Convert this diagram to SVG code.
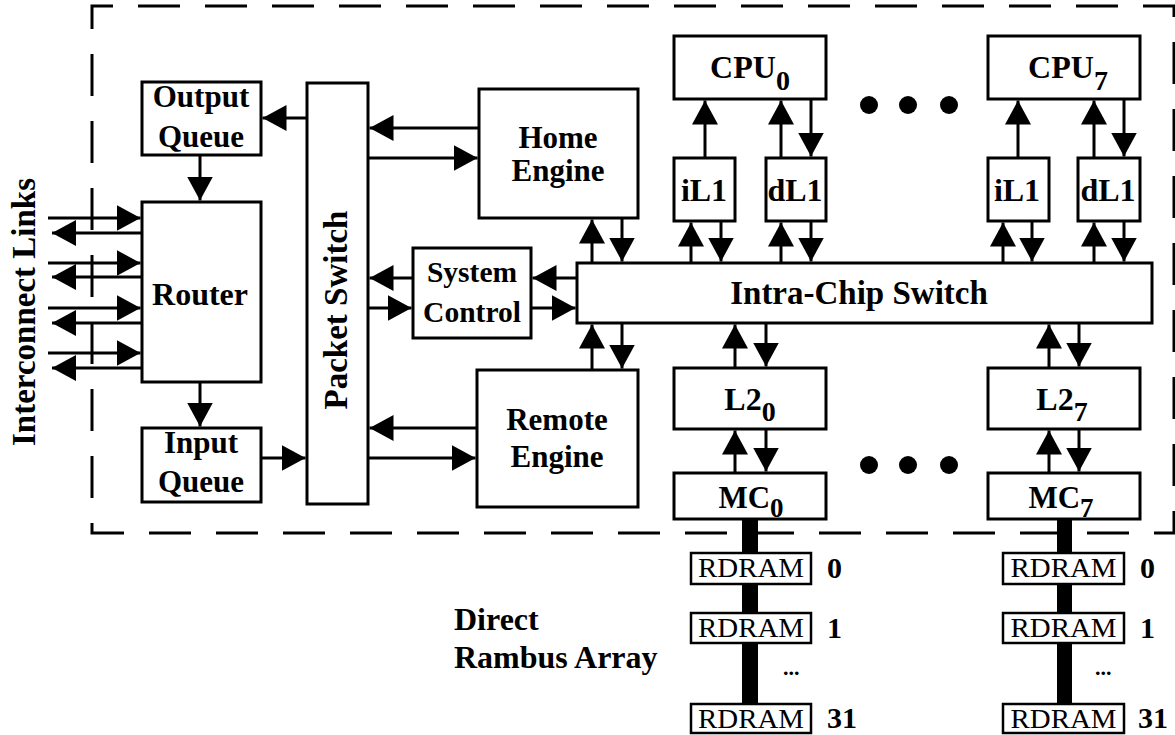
<svg xmlns="http://www.w3.org/2000/svg" width="1175" height="735" viewBox="0 0 1175 735">
<defs>
<marker id="ah" markerUnits="userSpaceOnUse" markerWidth="24" markerHeight="26" refX="24" refY="13" orient="auto" viewBox="0 0 24 26">
<path d="M0,0 L24,13 L0,26 Z" fill="#000"/>
</marker>
</defs>
<style>
.box{fill:#fff;stroke:#000;stroke-width:3}
.rd{fill:#fff;stroke:#000;stroke-width:2.5}
.c line{stroke:#000;stroke-width:3;marker-end:url(#ah)}
text{font-family:"Liberation Serif","Times New Roman",serif;font-weight:bold;fill:#000}
.m{text-anchor:middle}
.rt{font-weight:normal;font-size:27px}
.dot{fill:#000}
</style>
<rect width="1175" height="735" fill="#fff"/>
<path d="M92,27 V6 H1174 V533 H92 Z" fill="none" stroke="#000" stroke-width="3" stroke-dasharray="42 25"/>

<g id="bus">
<rect x="742" y="519" width="16" height="185" fill="#000"/>
<rect x="1057" y="519" width="15" height="185" fill="#000"/>
</g>

<g id="output-queue"><rect class="box" x="142" y="82" width="119" height="73"/><text class="m" x="201" y="107" font-size="31">Output</text><text class="m" x="201" y="147" font-size="31">Queue</text></g>
<g id="router"><rect class="box" x="142" y="202" width="119" height="180"/><text class="m" x="200" y="305" font-size="32">Router</text></g>
<g id="input-queue"><rect class="box" x="142" y="428" width="119" height="74"/><text class="m" x="201" y="453" font-size="31">Input</text><text class="m" x="201" y="492" font-size="31">Queue</text></g>
<g id="packet-switch"><rect class="box" x="307" y="83" width="61" height="421"/><text class="m" font-size="33" transform="translate(347,310) rotate(-90)">Packet Switch</text></g>
<g id="interconnect-label"><text class="m" font-size="33" transform="translate(35,312) rotate(-90)">Interconnect Links</text></g>
<g id="home-engine"><rect class="box" x="479" y="89" width="159" height="129"/><text class="m" x="558" y="148" font-size="31">Home</text><text class="m" x="558" y="181" font-size="31">Engine</text></g>
<g id="system-control"><rect class="box" x="413" y="248" width="118" height="90"/><text class="m" x="472" y="282" font-size="29.5">System</text><text class="m" x="472" y="322" font-size="29.5">Control</text></g>
<g id="remote-engine"><rect class="box" x="477" y="370" width="161" height="137"/><text class="m" x="557" y="430" font-size="31">Remote</text><text class="m" x="557" y="467" font-size="31">Engine</text></g>
<g id="intra-chip-switch"><rect class="box" x="577" y="263" width="575" height="60"/><text class="m" x="859" y="304" font-size="33">Intra-Chip Switch</text></g>
<g id="cpu0"><rect class="box" x="674" y="36" width="152" height="63"/><text class="m" x="750" y="78" font-size="32">CPU<tspan font-size="28" dy="12">0</tspan></text></g>
<g id="cpu7"><rect class="box" x="988" y="36" width="152" height="63"/><text class="m" x="1068" y="78" font-size="32">CPU<tspan font-size="28" dy="12">7</tspan></text></g>
<g id="il1-0"><rect class="box" x="674" y="158" width="61" height="63"/><text class="m" x="704" y="201" font-size="32">iL1</text></g>
<g id="dl1-0"><rect class="box" x="766" y="158" width="60" height="63"/><text class="m" x="795" y="201" font-size="32">dL1</text></g>
<g id="il1-7"><rect class="box" x="988" y="158" width="61" height="63"/><text class="m" x="1017" y="201" font-size="32">iL1</text></g>
<g id="dl1-7"><rect class="box" x="1078" y="158" width="62" height="63"/><text class="m" x="1108" y="201" font-size="32">dL1</text></g>
<g id="l2-0"><rect class="box" x="674" y="368" width="152" height="61"/><text class="m" x="750" y="410" font-size="32">L2<tspan font-size="28" dy="11">0</tspan></text></g>
<g id="l2-7"><rect class="box" x="988" y="368" width="152" height="61"/><text class="m" x="1062" y="410" font-size="32">L2<tspan font-size="28" dy="11">7</tspan></text></g>
<g id="mc0"><rect class="box" x="674" y="473" width="152" height="46"/><text class="m" x="751" y="508" font-size="31">MC<tspan font-size="27" dy="9">0</tspan></text></g>
<g id="mc7"><rect class="box" x="988" y="473" width="152" height="46"/><text class="m" x="1061" y="508" font-size="31">MC<tspan font-size="27" dy="9">7</tspan></text></g>

<g id="rdram-0-0"><rect class="rd" x="691" y="553" width="120" height="31"/><text class="m rt" x="751" y="577" textLength="106" lengthAdjust="spacingAndGlyphs">RDRAM</text><text x="827" y="578" font-size="30">0</text></g>
<g id="rdram-0-1"><rect class="rd" x="691" y="613" width="120" height="30"/><text class="m rt" x="751" y="637" textLength="106" lengthAdjust="spacingAndGlyphs">RDRAM</text><text x="827" y="638" font-size="30">1</text></g>
<g id="rdram-0-31"><rect class="rd" x="691" y="704" width="120" height="29"/><text class="m rt" x="751" y="728" textLength="106" lengthAdjust="spacingAndGlyphs">RDRAM</text><text x="827" y="728" font-size="30">31</text></g>
<text x="783" y="675" font-size="22">...</text>
<g id="rdram-7-0"><rect class="rd" x="1003" y="553" width="121" height="31"/><text class="m rt" x="1063.5" y="577" textLength="106" lengthAdjust="spacingAndGlyphs">RDRAM</text><text x="1140" y="578" font-size="30">0</text></g>
<g id="rdram-7-1"><rect class="rd" x="1003" y="613" width="121" height="30"/><text class="m rt" x="1063.5" y="637" textLength="106" lengthAdjust="spacingAndGlyphs">RDRAM</text><text x="1140" y="638" font-size="30">1</text></g>
<g id="rdram-7-31"><rect class="rd" x="1003" y="704" width="121" height="29"/><text class="m rt" x="1063.5" y="728" textLength="106" lengthAdjust="spacingAndGlyphs">RDRAM</text><text x="1138" y="728" font-size="30">31</text></g>
<text x="1095" y="675" font-size="22">...</text>

<g id="rambus-label"><text x="454" y="630" font-size="32">Direct</text><text x="454" y="668" font-size="32">Rambus Array</text></g>

<g id="ellipsis-dots">
<circle class="dot" cx="869" cy="105" r="9"/><circle class="dot" cx="908" cy="105" r="9"/><circle class="dot" cx="949" cy="105" r="9"/>
<circle class="dot" cx="869" cy="465" r="9"/><circle class="dot" cx="908" cy="465" r="9"/><circle class="dot" cx="949" cy="465" r="9"/>
</g>

<g id="connectors" class="c">
<line x1="705" y1="158" x2="705" y2="100.5"/>
<line x1="781" y1="158" x2="781" y2="100.5"/>
<line x1="811" y1="99" x2="811" y2="156.5"/>
<line x1="1018" y1="158" x2="1018" y2="100.5"/>
<line x1="1094" y1="158" x2="1094" y2="100.5"/>
<line x1="1124" y1="99" x2="1124" y2="156.5"/>
<line x1="691" y1="263" x2="691" y2="222.5"/>
<line x1="721" y1="221" x2="721" y2="261.5"/>
<line x1="781" y1="263" x2="781" y2="222.5"/>
<line x1="811" y1="221" x2="811" y2="261.5"/>
<line x1="1003" y1="263" x2="1003" y2="222.5"/>
<line x1="1032" y1="221" x2="1032" y2="261.5"/>
<line x1="1094" y1="263" x2="1094" y2="222.5"/>
<line x1="1124" y1="221" x2="1124" y2="261.5"/>
<line x1="592" y1="263" x2="592" y2="219.5"/>
<line x1="622" y1="218" x2="622" y2="261.5"/>
<line x1="592" y1="370" x2="592" y2="324.5"/>
<line x1="622" y1="323" x2="622" y2="368.5"/>
<line x1="735" y1="368" x2="735" y2="324.5"/>
<line x1="766" y1="323" x2="766" y2="366.5"/>
<line x1="735" y1="473" x2="735" y2="430.5"/>
<line x1="766" y1="429" x2="766" y2="471.5"/>
<line x1="1049" y1="368" x2="1049" y2="324.5"/>
<line x1="1079" y1="323" x2="1079" y2="366.5"/>
<line x1="1049" y1="473" x2="1049" y2="430.5"/>
<line x1="1079" y1="429" x2="1079" y2="471.5"/>
<line x1="200" y1="155" x2="200" y2="200.5"/>
<line x1="200" y1="382" x2="200" y2="426.5"/>
<line x1="307" y1="118" x2="262.5" y2="118"/>
<line x1="261" y1="458" x2="305.5" y2="458"/>
<line x1="479" y1="128" x2="369.5" y2="128"/>
<line x1="368" y1="158" x2="477.5" y2="158"/>
<line x1="413" y1="278" x2="369.5" y2="278"/>
<line x1="368" y1="308" x2="411.5" y2="308"/>
<line x1="577" y1="278" x2="532.5" y2="278"/>
<line x1="531" y1="308" x2="575.5" y2="308"/>
<line x1="477" y1="428" x2="369.5" y2="428"/>
<line x1="368" y1="458" x2="475.5" y2="458"/>
<line x1="48" y1="218" x2="140.5" y2="218"/>
<line x1="48" y1="263" x2="140.5" y2="263"/>
<line x1="48" y1="308" x2="140.5" y2="308"/>
<line x1="48" y1="353" x2="140.5" y2="353"/>
<line x1="142" y1="233" x2="52" y2="233"/>
<line x1="142" y1="277" x2="52" y2="277"/>
<line x1="142" y1="323" x2="52" y2="323"/>
<line x1="142" y1="368" x2="52" y2="368"/>
</g>
</svg>
